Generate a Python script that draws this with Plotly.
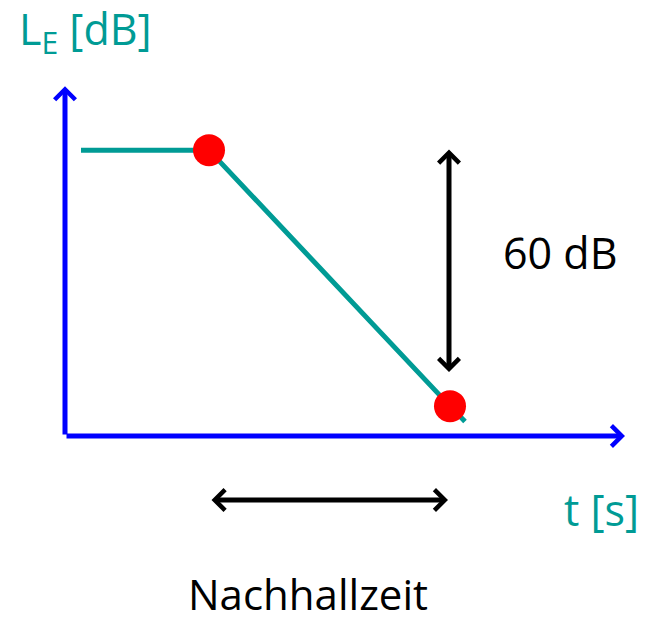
import plotly.graph_objects as go

# --------------------------------------------------------
# Data: Nachhall decay curve (time in s, level in dB)
# --------------------------------------------------------

curve_t = [0.16, 1.44, 3.85, 4.0]
curve_level = [67, 67, 7, 3.4]

dots_t = [1.44, 3.85]
dots_level = [67, 7]

axis_t_max = 5.6
axis_level_max = 82

decay_arrow_t = 3.84
decay_arrow_level = [67.5, 15]

reverb_arrow_level = -15
reverb_arrow_t = [1.45, 3.83]

TEAL = "#009b95"
BLUE = "#0000ff"
FONT = "Open Sans"

fig = go.Figure()

fig.add_trace(
    go.Scatter(
        x=curve_t,
        y=curve_level,
        mode="lines",
        line=dict(color=TEAL, width=5),
        hoverinfo="skip"
    )
)

fig.add_trace(
    go.Scatter(
        x=dots_t,
        y=dots_level,
        mode="markers",
        marker=dict(color="#ff0000", size=32),
        hoverinfo="skip"
    )
)


def arrow(x, y, ax, ay, color, both=False):
    fig.add_annotation(
        x=x, y=y, ax=ax, ay=ay,
        xref="x", yref="y", axref="x", ayref="y",
        text="",
        showarrow=True,
        arrowhead=4,
        startarrowhead=4,
        arrowside="end+start" if both else "end",
        arrowsize=0.8,
        startarrowsize=0.8,
        arrowwidth=5,
        arrowcolor=color
    )


# axes
arrow(0, axis_level_max, 0, 0, BLUE)
arrow(axis_t_max, 0, 0, 0, BLUE)

# 60 dB and Nachhallzeit arrows
arrow(decay_arrow_t, decay_arrow_level[1], decay_arrow_t, decay_arrow_level[0], "black", both=True)
arrow(reverb_arrow_t[1], reverb_arrow_level, reverb_arrow_t[0], reverb_arrow_level, "black", both=True)


def label(x, y, text, color, size=43):
    fig.add_annotation(
        x=x, y=y, xref="x", yref="y",
        text=text, showarrow=False,
        font=dict(family=FONT, size=size, color=color)
    )


label(0.2, 95, "L<sub>E</sub> [dB]", TEAL)
label(4.95, 43, "60 dB", "black")
label(5.36, -17.3, "t [s]", TEAL)
label(2.43, -37.0, "Nachhallzeit", "black", size=42)

fig.update_layout(
    width=646,
    height=627,
    margin=dict(l=0, r=0, t=0, b=0),
    paper_bgcolor="white",
    plot_bgcolor="white",
    showlegend=False,
    xaxis=dict(range=[-0.65, 5.81], visible=False),
    yaxis=dict(range=[-44.77, 102.19], visible=False)
)

fig.write_html(
    "out.html",
    config={"displayModeBar": False},
    post_script="document.body.style.margin = '0';"
)
